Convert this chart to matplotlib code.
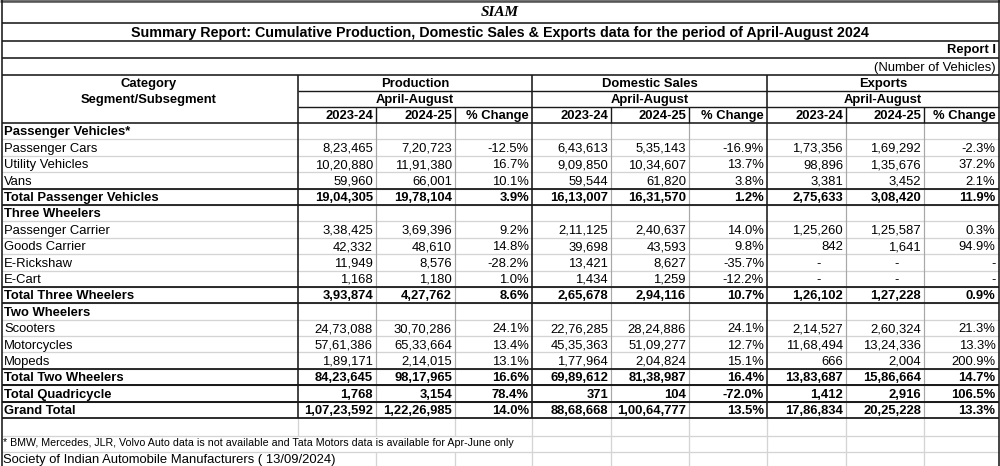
import matplotlib
matplotlib.use("Agg")
import matplotlib.pyplot as plt

plt.rcParams['font.family'] = ['Liberation Sans', 'DejaVu Sans']

# ---- data ----
row_labels = [
    "Passenger Vehicles*", "Passenger Cars", "Utility Vehicles", "Vans",
    "Total Passenger Vehicles",
    "Three Wheelers", "Passenger Carrier", "Goods Carrier", "E-Rickshaw", "E-Cart",
    "Total Three Wheelers",
    "Two Wheelers", "Scooters", "Motorcycles", "Mopeds",
    "Total Two Wheelers", "Total Quadricycle", "Grand Total",
]
row_kinds = [
    "head", "sub", "sub", "sub", "total",
    "head", "sub", "sub", "sub", "sub", "total",
    "head", "sub", "sub", "sub", "total", "total", "total",
]
prod_2324 = [None, 823465, 1020880, 59960, 1904305,
             None, 338425, 42332, 11949, 1168, 393874,
             None, 2473088, 5761386, 189171, 8423645, 1768, 10723592]
prod_2425 = [None, 720723, 1191380, 66001, 1978104,
             None, 369396, 48610, 8576, 1180, 427762,
             None, 3070286, 6533664, 214015, 9817965, 3154, 12226985]
prod_pct = [None, -12.5, 16.7, 10.1, 3.9,
            None, 9.2, 14.8, -28.2, 1.0, 8.6,
            None, 24.1, 13.4, 13.1, 16.6, 78.4, 14.0]
dom_2324 = [None, 643613, 909850, 59544, 1613007,
            None, 211125, 39698, 13421, 1434, 265678,
            None, 2276285, 4535363, 177964, 6989612, 371, 8868668]
dom_2425 = [None, 535143, 1034607, 61820, 1631570,
            None, 240637, 43593, 8627, 1259, 294116,
            None, 2824886, 5109277, 204824, 8138987, 104, 10064777]
dom_pct = [None, -16.9, 13.7, 3.8, 1.2,
           None, 14.0, 9.8, -35.7, -12.2, 10.7,
           None, 24.1, 12.7, 15.1, 16.4, -72.0, 13.5]
exp_2324 = [None, 173356, 98896, 3381, 275633,
            None, 125260, 842, "-", "-", 126102,
            None, 214527, 1168494, 666, 1383687, 1412, 1786834]
exp_2425 = [None, 169292, 135676, 3452, 308420,
            None, 125587, 1641, "-", "-", 127228,
            None, 260324, 1324336, 2004, 1586664, 2916, 2025228]
exp_pct = [None, -2.3, 37.2, 2.1, 11.9,
           None, 0.3, 94.9, "-", "-", 0.9,
           None, 21.3, 13.3, 200.9, 14.7, 106.5, 13.3]

groups = ["Production", "Domestic Sales", "Exports"]
period = "April-August"
year_heads = ["2023-24", "2024-25", "% Change"]

title = "Summary Report: Cumulative Production, Domestic Sales & Exports data for the period of April-August 2024"
footnote = "* BMW, Mercedes, JLR, Volvo Auto data is not available and Tata Motors data is available for Apr-June only"
source = "Society of Indian Automobile Manufacturers ( 13/09/2024)"


def indian(n):
    s = str(abs(int(n)))
    if len(s) > 3:
        head, tail = s[:-3], s[-3:]
        parts = []
        while len(head) > 2:
            parts.insert(0, head[-2:])
            head = head[:-2]
        if head:
            parts.insert(0, head)
        s = ",".join(parts) + "," + tail
    return ("-" if n < 0 else "") + s


def fmt_num(v):
    return v if isinstance(v, str) else indian(v)


def fmt_pct(v):
    return v if isinstance(v, str) else f"{v:.1f}%"


# ---- layout ----
W, H = 1000, 466
fig = plt.figure(figsize=(10, 4.66), dpi=100)
ax = fig.add_axes([0, 0, 1, 1])
ax.set_xlim(0, W)
ax.set_ylim(H, 0)
ax.axis("off")

col_edges = [1.5, 298, 376, 455, 532, 611, 689, 767, 846, 924, 998.5]
n = len(row_labels)
top, bottom = 123, 418
rh = (bottom - top) / n
row_edges = [top + i * rh for i in range(n + 1)]
foot_edges = [418, 436, 452, 466]
group_x = (298, 532, 767)

dark = "#1a1a1a"
grid = "#d4d4d4"
mid = "#a8a8a8"
px = 0.72

# light gridlines in data and footer rows
for y in row_edges[1:-1] + foot_edges[1:-1]:
    ax.hlines(y, col_edges[0], col_edges[-1], color=grid, lw=1.3 * px, zorder=1)
for x in col_edges[1:-1]:
    is_group = x in group_x
    ax.vlines(x, 123, 418, color=dark if is_group else mid,
              lw=(1.6 if is_group else 1.2) * px, zorder=2)
    # footer verticals (hidden where the long text runs over them)
    ax.vlines(x, 418, 436, color=grid, lw=1.3 * px, zorder=1)
    if x > 520:
        ax.vlines(x, 436, 452, color=grid, lw=1.3 * px, zorder=1)
    if x > 310:
        ax.vlines(x, 452, 466, color=grid, lw=1.3 * px, zorder=1)

# header lines
for y in [22.5, 41, 58, 75, 123]:
    ax.hlines(y, col_edges[0], col_edges[-1], color=dark, lw=1.6 * px, zorder=3)
ax.hlines(0.8, 0, W, color="#555555", lw=2.6 * px, zorder=3)
for y in [91, 107]:
    ax.hlines(y, 298, col_edges[-1], color=dark, lw=1.4 * px, zorder=3)
for x in group_x:
    ax.vlines(x, 75, 123, color=dark, lw=1.6 * px, zorder=3)
for x in [376, 455, 611, 689, 846, 924]:
    ax.vlines(x, 107, 123, color=dark, lw=1.4 * px, zorder=3)

# thick lines around totals
for i, k in enumerate(row_kinds):
    if k == "total":
        for y in (row_edges[i], row_edges[i + 1]):
            ax.hlines(y, col_edges[0], col_edges[-1], color=dark, lw=1.8 * px, zorder=3)

# outer borders
ax.vlines(col_edges[0], 0, H, color=dark, lw=1.6 * px, zorder=3)
ax.vlines(col_edges[-1], 0, H, color=dark, lw=1.6 * px, zorder=3)

fs = 9.4
dy = 1.3
# header texts
ax.text(W / 2, 12.5, "SIAM", family="Liberation Serif", weight="bold", style="italic",
        fontsize=11, ha="center", va="center")
ax.text(W / 2, 32.5, title, weight="bold", fontsize=10.3, ha="center", va="center")
ax.text(996, 50.5, "Report I", weight="bold", fontsize=fs, ha="right", va="center")
ax.text(996, 67.5, "(Number of Vehicles)", fontsize=fs, ha="right", va="center")
ax.text(149, 84, "Category", weight="bold", fontsize=fs, ha="center", va="center")
ax.text(149, 100, "Segment/Subsegment", weight="bold", fontsize=fs, ha="center", va="center")
for g, name in enumerate(groups):
    x0, x1 = col_edges[1 + 3 * g], col_edges[4 + 3 * g]
    ax.text((x0 + x1) / 2, 84, name, weight="bold", fontsize=fs, ha="center", va="center")
    ax.text((x0 + x1) / 2, 100, period, weight="bold", fontsize=fs, ha="center", va="center")
    for j, yh in enumerate(year_heads):
        ax.text(col_edges[2 + 3 * g + j] - 3, 116, yh, weight="bold", fontsize=fs,
                ha="right", va="center")

# body
series = [prod_2324, prod_2425, prod_pct, dom_2324, dom_2425, dom_pct,
          exp_2324, exp_2425, exp_pct]
for i, label in enumerate(row_labels):
    yc = (row_edges[i] + row_edges[i + 1]) / 2 + dy
    bold = "bold" if row_kinds[i] != "sub" else "normal"
    ax.text(4, yc, label, weight=bold, fontsize=fs, ha="left", va="center")
    for c, s in enumerate(series):
        v = s[i]
        if v is None:
            continue
        right = col_edges[c + 2] - 3
        txt = fmt_pct(v) if c % 3 == 2 else fmt_num(v)
        if v == "-" and c % 3 != 2:
            right -= 22
        ax.text(right, yc, txt, weight=bold, fontsize=fs, ha="right", va="center")

ax.text(3, 443.5, footnote, fontsize=7.7, ha="left", va="center")
ax.text(3, 460, source, fontsize=fs, ha="left", va="center")

fig.savefig("out.png", dpi=100)
